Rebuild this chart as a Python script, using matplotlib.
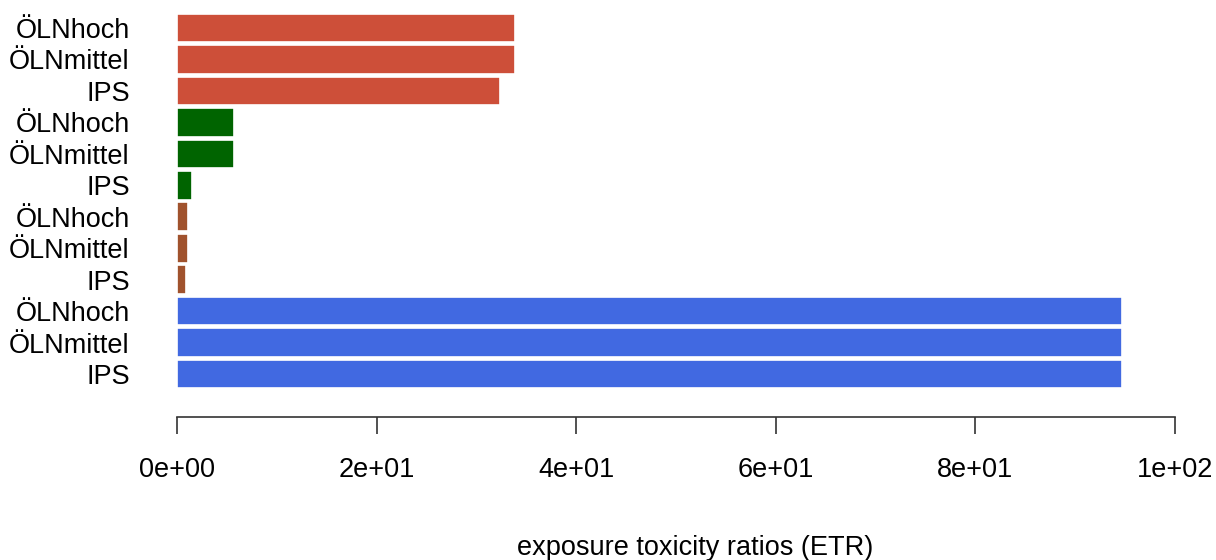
import matplotlib
matplotlib.use("Agg")
import matplotlib.pyplot as plt
from matplotlib.ticker import FuncFormatter

plt.rcParams['font.family'] = ['Liberation Sans', 'DejaVu Sans']

# ETR per scenario, grouped by organism (top to bottom)
labels = ["ÖLNhoch", "ÖLNmittel", "IPS"] * 4
etr_values = [33.9, 33.9, 32.4,   # red group
              5.7, 5.7, 1.5,      # green group
              1.15, 1.15, 0.95,   # brown group
              94.7, 94.7, 94.7]   # blue group
group_colors = ["#CD4F39", "#006400", "#A0522D", "#4169E1"]
colors = [c for c in group_colors for _ in range(3)]


def sci_label(v, pos):
    if v == 0:
        return "0e+00"
    exp = len(str(int(v))) - 1
    return "%de+%02d" % (v / 10 ** exp, exp)


fig = plt.figure(figsize=(12.16, 5.6), dpi=100)
ax = fig.add_axes([177 / 1216, (560 - 417) / 560, 998 / 1216, 417 / 560])

ypos = [i * 1.1 for i in range(len(labels))]
ax.barh(ypos, etr_values, height=1.0, color=colors, edgecolor="white", linewidth=1.2)

ax.set_xlim(0, 100)
ax.set_ylim(13.6, -0.98)
ax.set_yticks(ypos)
ax.set_yticklabels(labels, fontsize=19.5)
ax.tick_params(axis="y", length=0, pad=34)

ax.set_xticks([0, 20, 40, 60, 80, 100])
ax.xaxis.set_major_formatter(FuncFormatter(sci_label))
ax.tick_params(axis="x", length=12, width=1.2, pad=17, labelsize=19.5, color="#333333")

for s in ["top", "right", "left"]:
    ax.spines[s].set_visible(False)
ax.spines["bottom"].set_color("#333333")
ax.spines["bottom"].set_linewidth(1.2)

fig.text(695 / 1216, 1 - 548 / 560, "exposure toxicity ratios (ETR)",
         ha="center", va="center", fontsize=19.5)

fig.savefig("out.png", dpi=100)
